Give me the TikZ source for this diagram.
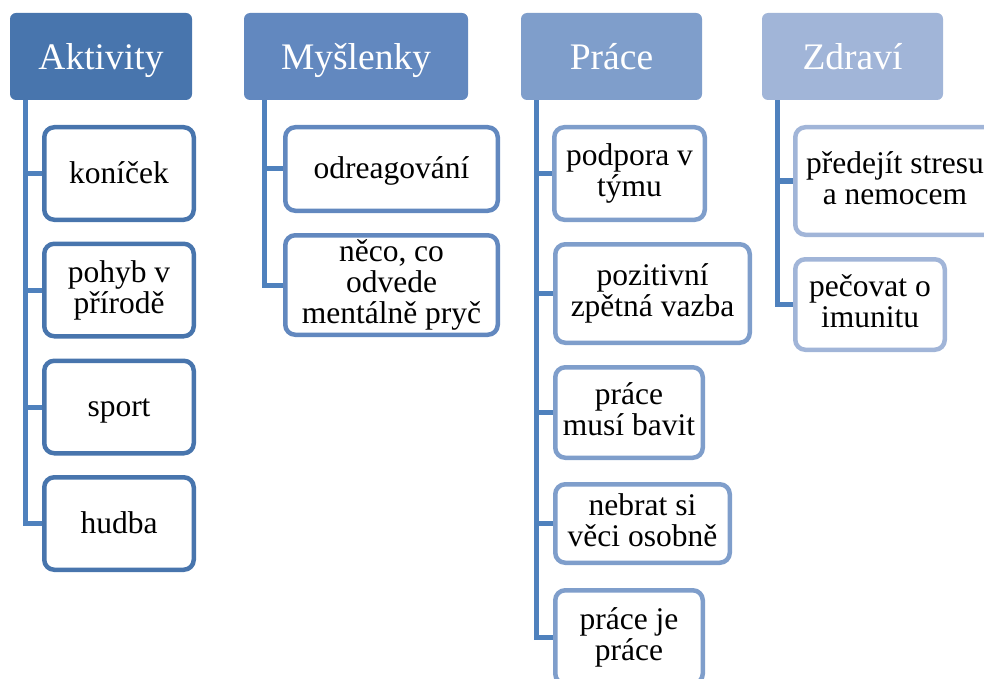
\documentclass[tikz,border=0pt]{standalone}
\usepackage{fontspec}
\setmainfont{Liberation Serif}
\usetikzlibrary{backgrounds}
\definecolor{colA}{HTML}{4875AD}
\definecolor{colM}{HTML}{6288BF}
\definecolor{colP}{HTML}{7F9ECB}
\definecolor{colZ}{HTML}{A1B5D8}
\definecolor{linkblue}{HTML}{4F81BD}
% fixed line strut so every box centres its lines the same way
\newcommand{\linestrut}{\rule[-6pt]{0pt}{31pt}}
\tikzset{
  head/.style={rounded corners=6pt, inner sep=0pt, text=white,
    font=\fontsize{37.5}{40}\selectfont, minimum height=87pt,
    text height=32pt, text depth=5pt},
  item/.style={draw, fill=white, line width=4.5pt, rounded corners=10pt,
    inner sep=0pt, align=center, text=black,
    font=\fontsize{31.5}{31}\selectfont,
    execute at begin node=\linestrut, execute at end node=\linestrut},
  link/.style={draw=linkblue, line width=5pt},
}
\newcommand{\itembox}[6]{%
  \node[item, draw=#1, minimum width=#4pt-4.5pt, minimum height=#5pt-4.5pt]
    (#2) at (#3) {#6};}
\begin{document}
\begin{tikzpicture}[x=1pt, y=-1pt]
\useasboundingbox (0,0) rectangle (984,679);
\clip (0,0) rectangle (984,679);

% column headers
\node[head, fill=colA, minimum width=182pt] (hA) at (101,56.5) {Aktivity};
\node[head, fill=colM, minimum width=224pt] (hM) at (356,56.5) {Myšlenky};
\node[head, fill=colP, minimum width=181pt] (hP) at (611.5,56.5) {Práce};
\node[head, fill=colZ, minimum width=181pt] (hZ) at (852.5,56.5) {Zdraví};

% Aktivity
\itembox{colA}{a1}{119,173.5}{154}{97}{koníček}
\itembox{colA}{a2}{119,290}{154}{97}{pohyb v\\přírodě}
\itembox{colA}{a3}{119,407}{154}{97}{sport}
\itembox{colA}{a4}{119,523.5}{154}{97}{hudba}

% Myšlenky
\itembox{colM}{m1}{391.5,169}{217}{88}{odreagování}
\itembox{colM}{m2}{391.5,285}{217}{104}{něco, co\\odvede\\mentálně pryč}

% Práce
\itembox{colP}{p1}{629.5,173.5}{155}{97}{podpora v\\týmu}
\itembox{colP}{p2}{652.5,293.5}{199}{103}{pozitivní\\zpětná vazba}
\itembox{colP}{p3}{629,412.5}{152}{95}{práce\\musí bavit}
\itembox{colP}{p4}{642.5,523.5}{179}{83}{nebrat si\\věci osobně}
\itembox{colP}{p5}{629,637}{152}{98}{práce je\\práce}

% Zdraví
\itembox{colZ}{z1}{895,181}{204}{112}{předejít stresu\\a nemocem}
\itembox{colZ}{z2}{870,304.5}{154}{95}{pečovat o\\imunitu}

% trunk tops below each header
\coordinate (tA) at (25.5,100);
\coordinate (tM) at (264.5,100);
\coordinate (tP) at (536,100);
\coordinate (tZ) at (777.5,100);

\begin{scope}[on background layer]
  \foreach \c in {a1,a2,a3,a4} \draw[link] (tA) |- (\c.west);
  \foreach \c in {m1,m2} \draw[link] (tM) |- (\c.west);
  \foreach \c in {p1,p2,p3,p4,p5} \draw[link] (tP) |- (\c.west);
  \foreach \c in {z1,z2} \draw[link] (tZ) |- (\c.west);
\end{scope}
\end{tikzpicture}
\end{document}
